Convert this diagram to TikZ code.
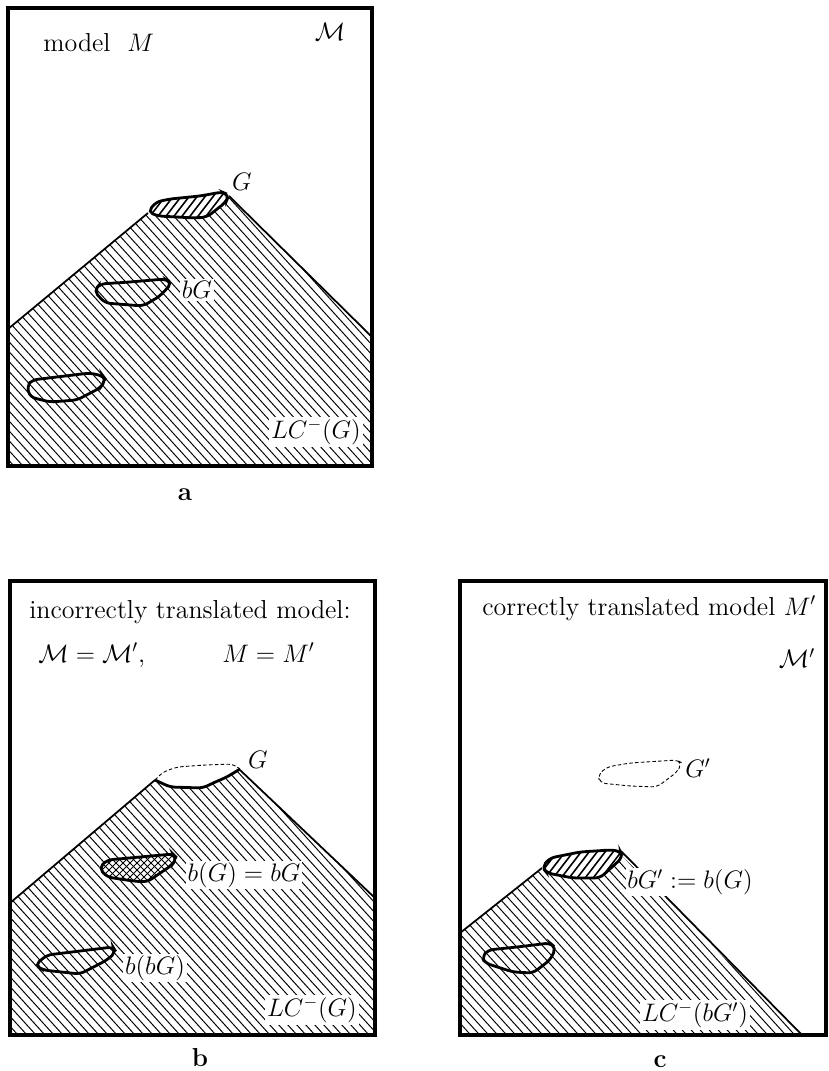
\documentclass[tikz,border=0pt]{standalone}
\usepackage{amsmath}
\begin{document}
\begin{tikzpicture}[
  x=0.02cm,y=-0.02cm,
  font=\fontsize{14.8}{17}\selectfont,
  frame/.style={line width=2.8pt,line join=miter},
  slope/.style={line width=1pt},
  blob/.style={line width=1.6pt,rounded corners=3pt},
  ghost/.style={line width=0.5pt,dash pattern=on 2pt off 1.3pt,rounded corners=3pt},
  hatch/.style={line width=0.55pt},
  bhatch/.style={line width=0.9pt},
  lab/.style={fill=white,inner sep=1pt},
  txt/.style={anchor=base west,inner sep=0pt},
  tag/.style={font=\fontsize{14.8}{17}\selectfont\bfseries}
]
\useasboundingbox (0,0) rectangle (828,1071);

% --- a ---
\begin{scope}
  \clip (8,329) -- (148,213) -- (158,216) -- (195,218) -- (207,217) -- (226,202)
    -- (229,196) -- (372,337) -- (372,466) -- (8,466) -- cycle;
  \foreach \c in {-255,-246,...,375} \draw[hatch] (\c,180) -- ++(290,319);
\end{scope}
\begin{scope}
  \clip (148,212) -- (156,202) -- (170,199) -- (200,196) -- (222,192) -- (229,195)
    -- (226,202) -- (207,217) -- (195,218) -- (158,216) -- cycle;
  \foreach \c in {120,128,...,240} \draw[bhatch] (\c,224) -- ++(30,-39);
\end{scope}
\draw[slope] (8,329) -- (148,213);
\draw[slope] (229,196) -- (372,337);
\draw[blob] (148,212) -- (156,202) -- (170,199) -- (200,196) -- (222,192) -- (229,195)
  -- (226,202) -- (207,217) -- (195,218) -- (158,216) -- cycle;
\draw[blob] (94,291) -- (100,284) -- (130,282) -- (165,279) -- (172,283) -- (160,296)
  -- (143,306) -- (105,303) -- cycle;
\draw[blob] (27,386) -- (32,380) -- (90,373) -- (103,376) -- (106,380) -- (100,388)
  -- (77,400) -- (50,402) -- (30,397) -- cycle;
\node[txt] (modelM) at (43,52) {model\ \ $M$};
\node (calMa) at (330,32) {$\mathcal{M}$};
\node (Ga) at (242,182) {$G$};
\node[lab] (bGa) at (197,290) {$bG$};
\node[lab] (LCa) at (316,432) {$LC^-(G)$};
\draw[frame] (8,8) rectangle (372,466);
\node[tag] (taga) at (185,495) {a};

% --- b ---
\begin{scope}
  \clip (10,903) -- (155,780) -- (157,782) -- (170,787) -- (203,788) -- (213,783)
    -- (227,777) -- (240,770) -- (375,898) -- (375,1035) -- (10,1035) -- cycle;
  \foreach \c in {-250,-241,...,380} \draw[hatch] (\c,760) -- ++(260,286);
\end{scope}
\draw[slope] (10,903) -- (155,780);
\draw[slope] (240,770) -- (375,898);
\draw[ghost] (155,780) -- (163,772) -- (177,767) -- (205,765) -- (233,764) -- (240,769);
\draw[blob] (155,780) -- (170,787) -- (203,788) -- (213,783) -- (227,777) -- (240,769);
\fill[white] (99,868) -- (107,860) -- (173,854) -- (177,858) -- (172,865) -- (147,882)
  -- (133,881) -- (107,877) -- cycle;
\begin{scope}
  \clip (99,868) -- (107,860) -- (173,854) -- (177,858) -- (172,865) -- (147,882)
    -- (133,881) -- (107,877) -- cycle;
  \foreach \c in {40,47,...,190} {
    \draw[hatch] (\c,850) -- ++(40,40);
    \draw[hatch] (\c,890) -- ++(40,-40);
  }
\end{scope}
\draw[blob] (99,868) -- (107,860) -- (173,854) -- (177,858) -- (172,865) -- (147,882)
  -- (133,881) -- (107,877) -- cycle;
\draw[blob] (35,965) -- (47,955) -- (113,947) -- (116,952) -- (107,960) -- (80,974)
  -- (43,970) -- cycle;
\node[txt] (wrong) at (29,618) {incorrectly translated model:};
\node[txt] (eqcal) at (38,662) {$\mathcal{M}=\mathcal{M}'$,};
\node[txt] (eqM) at (222,662) {$M=M'$};
\node (Gb) at (258,760) {$G$};
\node[lab] (bGb) at (244,875) {$b(G)=bG$};
\node[lab] (bbGb) at (155,968) {$b(bG)$};
\node[lab] (LCb) at (312,1010) {$LC^-(G)$};
\draw[frame] (10,581) rectangle (375,1035);
\node[tag] (tagb) at (200,1058) {b};

% --- c ---
\begin{scope}
  \clip (460,933) -- (542,868) -- (547,873) -- (573,878) -- (600,878) -- (623,857)
    -- (802,1035) -- (460,1035) -- cycle;
  \foreach \c in {280,289,...,810} \draw[hatch] (\c,845) -- ++(180,198);
\end{scope}
\begin{scope}
  \clip (542,867) -- (550,858) -- (580,852) -- (610,850) -- (620,851) -- (623,857)
    -- (600,878) -- (573,878) -- (547,873) -- cycle;
  \foreach \c in {510,518,...,630} \draw[bhatch] (\c,882) -- ++(30,-39);
\end{scope}
\draw[slope] (460,933) -- (542,868);
\draw[slope] (621,851) -- (802,1035);
\draw[blob] (542,867) -- (550,858) -- (580,852) -- (610,850) -- (620,851) -- (623,857)
  -- (600,878) -- (573,878) -- (547,873) -- cycle;
\draw[blob] (482,957) -- (488,950) -- (517,947) -- (550,943) -- (556,948) -- (550,960)
  -- (533,973) -- (513,972) -- (485,963) -- cycle;
\draw[ghost] (598,775) -- (607,767) -- (630,763) -- (677,760) -- (682,763) -- (677,772)
  -- (657,787) -- (630,786) -- (600,783) -- cycle;
\node[txt] (right) at (482,615) {correctly translated model $M'$};
\node (calMc) at (797,658) {$\mathcal{M}'$};
\node (Gc) at (698,768) {$G'$};
\node[lab] (bGc) at (690,882) {$bG':=b(G)$};
\node[lab] (LCc) at (695,1015) {$LC^-(bG')$};
\draw[frame] (460,581) rectangle (826,1035);
\node[tag] (tagc) at (660,1062) {c};
\end{tikzpicture}
\end{document}
